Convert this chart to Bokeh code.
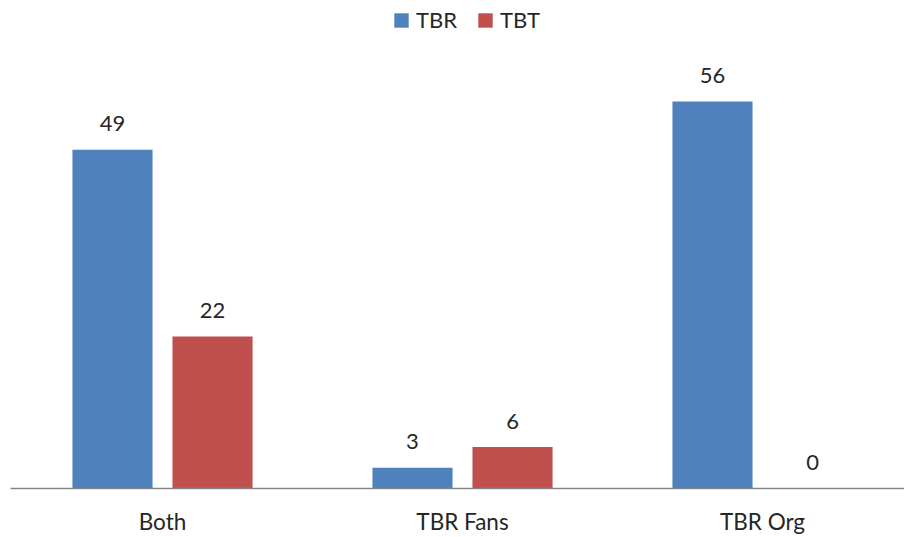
from bokeh.plotting import figure
from bokeh.models import ColumnDataSource, Range1d, FixedTicker, Legend, LegendItem
from bokeh.core.properties import value
from bokeh.embed import file_html
from bokeh.resources import INLINE

categories = ["Both", "TBR Fans", "TBR Org"]
tbr = [49, 3, 56]
tbt = [22, 6, 0]
series_names = ["TBR", "TBT"]
colors = ["#4F81BD", "#C0504D"]

FONT = "Lato"
TEXT_COLOR = "#262626"

xs = list(range(len(categories)))
offset = 0.1667
bar_w = 0.267

p = figure(width=904, height=537, output_backend="svg", toolbar_location=None,
           x_range=Range1d(-0.5067, 2.4733), y_range=Range1d(0, 70.6),
           min_border_left=10, min_border_right=0, min_border_top=0, min_border_bottom=0)
p.outline_line_color = None
p.grid.grid_line_color = None
p.yaxis.visible = False
p.background_fill_color = "white"
p.border_fill_color = "white"

src1 = ColumnDataSource(dict(x=[x - offset for x in xs], top=tbr, lab=[str(v) for v in tbr]))
src2 = ColumnDataSource(dict(x=[x + offset for x in xs], top=tbt, lab=[str(v) for v in tbt]))

r1 = p.vbar(x="x", top="top", width=bar_w, source=src1, fill_color=colors[0], line_color=None)
r2 = p.vbar(x="x", top="top", width=bar_w, source=src2, fill_color=colors[1], line_color=None)

for src in (src1, src2):
    p.text(x="x", y="top", text="lab", source=src, text_align="center", text_baseline="middle",
           y_offset=-26, text_font=value(FONT), text_font_size="22px", text_color=TEXT_COLOR)

p.xaxis.ticker = FixedTicker(ticks=xs)
p.xaxis.major_label_overrides = {i: c for i, c in enumerate(categories)}
p.xaxis.major_tick_line_color = None
p.xaxis.minor_tick_line_color = None
p.xaxis.axis_line_color = "#868686"
p.xaxis.axis_line_width = 1.5
p.xaxis.major_label_text_font = FONT
p.xaxis.major_label_text_font_size = "22.5px"
p.xaxis.major_label_text_color = TEXT_COLOR
p.xaxis.major_label_standoff = 13

legend = Legend(items=[LegendItem(label=series_names[0], renderers=[r1]),
                       LegendItem(label=series_names[1], renderers=[r2])],
                orientation="horizontal", location=(382, 455),
                label_text_font=FONT, label_text_font_size="22px", label_text_color=TEXT_COLOR,
                glyph_width=18, glyph_height=18, label_standoff=6, spacing=19,
                border_line_color=None, background_fill_alpha=0, margin=0, padding=4)
p.add_layout(legend)

open("out.html", "w").write(file_html(p, INLINE))
